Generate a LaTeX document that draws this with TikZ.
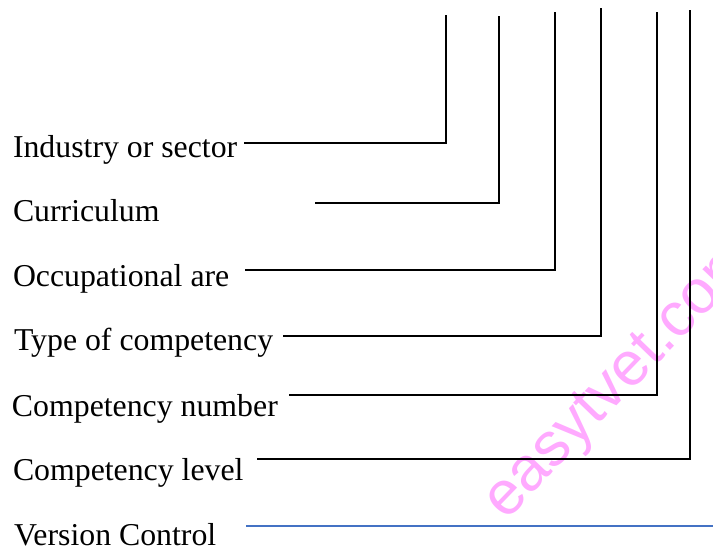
\documentclass[tikz,border=0pt]{standalone}
\usepackage{fontspec}
\setmainfont{Liberation Serif}
\newfontfamily\wmfont{Liberation Sans}
\usetikzlibrary{positioning}
\definecolor{vcblue}{RGB}{68,114,196}
\definecolor{wmpink}{RGB}{255,170,255}
\tikzset{
  code/.style={x=1pt,y=-1pt,
    every node/.style={inner sep=0pt,outer sep=0pt}},
  lbl/.style={anchor=base west,font=\fontsize{31.8}{36}\selectfont},
  leader/.style={line width=2pt,line cap=rect},
  wmark/.style={anchor=base west,rotate=46,text=wmpink,
    font=\wmfont\fontsize{62}{70}\selectfont},
}

\begin{document}
\begin{tikzpicture}[code]
  \useasboundingbox (0,0) rectangle (713,554);
  % watermark
  \node[wmark] (wm) at (506,521) {easytvet.com};
  % labels
  \node[lbl] (ind) at (13,157) {Industry or sector};
  \node[lbl] (cur) at (13,221) {Curriculum};
  \node[lbl] (occ) at (13,286) {Occupational are};
  \node[lbl] (typ) at (14,350) {Type of competency};
  \node[lbl] (num) at (12,416) {Competency number};
  \node[lbl] (lev) at (13,480) {Competency level};
  \node[lbl] (ver) at (14,545) {Version Control};
  % line ends
  \coordinate (ind-s) at (245,143);  \coordinate (ind-t) at (446,16);
  \coordinate (cur-s) at (316,203);  \coordinate (cur-t) at (499,17);
  \coordinate (occ-s) at (246,270);  \coordinate (occ-t) at (555,13);
  \coordinate (typ-s) at (284,336);  \coordinate (typ-t) at (601,9);
  \coordinate (num-s) at (290,395);  \coordinate (num-t) at (657,13);
  \coordinate (lev-s) at (258,459);  \coordinate (lev-t) at (690,11);
  \coordinate (ver-s) at (246,526);  \coordinate (ver-e) at (713,526);
  \draw[leader] (ind-s) -| (ind-t);
  \draw[leader] (cur-s) -| (cur-t);
  \draw[leader] (occ-s) -| (occ-t);
  \draw[leader] (typ-s) -| (typ-t);
  \draw[leader] (num-s) -| (num-t);
  \draw[leader] (lev-s) -| (lev-t);
  \draw[leader,draw=vcblue,line cap=butt] (ver-s) -- (ver-e);
\end{tikzpicture}
\end{document}
